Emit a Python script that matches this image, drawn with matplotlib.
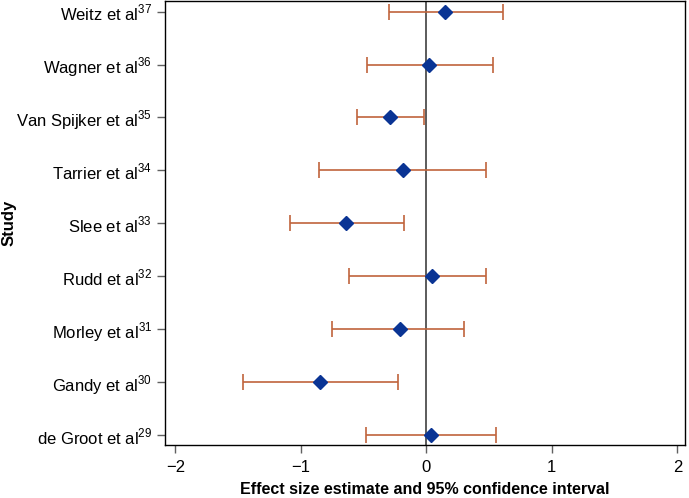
import matplotlib.pyplot as plt
import numpy as np

plt.rcParams['font.family'] = ['Liberation Sans', 'DejaVu Sans']
plt.rcParams['mathtext.fontset'] = 'custom'
plt.rcParams['mathtext.rm'] = 'Liberation Sans'

# studies listed bottom to top
studies = ["de Groot et al", "Gandy et al", "Morley et al", "Rudd et al", "Slee et al",
           "Tarrier et al", "Van Spijker et al", "Wagner et al", "Weitz et al"]
refs = ["29", "30", "31", "32", "33", "34", "35", "36", "37"]
estimate = [0.034, -0.847, -0.213, 0.041, -0.644, -0.188, -0.289, 0.019, 0.149]
ci_low = [-0.482, -1.465, -0.753, -0.614, -1.087, -0.853, -0.549, -0.474, -0.297]
ci_high = [0.557, -0.230, 0.300, 0.475, -0.177, 0.475, -0.021, 0.533, 0.610]

est = np.array(estimate)
lo = est - np.array(ci_low)
hi = np.array(ci_high) - est
ypos = np.arange(1, len(studies) + 1)

fig = plt.figure(figsize=(6.89, 4.98), dpi=100)
ax = fig.add_axes([0.240, 0.107, 0.754, 0.891])

ax.axvline(0, color="#404040", linewidth=1.2, zorder=1)
ax.errorbar(est, ypos, xerr=[lo, hi], fmt="none", ecolor="#c0643c",
            elinewidth=1.2, capsize=6, capthick=1.2, zorder=2)
ax.plot(est, ypos, linestyle="none", marker="D", markersize=7.5,
        color="#0a3494", zorder=3)

ax.set_xlim(-2.08, 2.06)
ax.set_ylim(0.82, 9.2)
ax.set_xticks([-2, -1, 0, 1, 2])
ax.set_xticklabels(["\u22122", "\u22121", "0", "1", "2"])
ax.set_yticks(ypos)
ax.set_yticklabels([f"{s}$^{{\\mathregular{{{r}}}}}$" for s, r in zip(studies, refs)])
ax.tick_params(axis="both", labelsize=12, length=6, color="#606060", width=1)
ax.tick_params(axis="x", pad=5)

for sp in ax.spines.values():
    sp.set_linewidth(1.0)
    sp.set_color("black")

ax.set_xlabel("Effect size estimate and 95% confidence interval", fontsize=11.5,
              fontweight="bold")
ax.xaxis.set_label_coords(0.5, -0.083)
ax.set_ylabel("Study", fontsize=12, fontweight="bold")
ax.yaxis.set_label_coords(-0.287, 0.5)

fig.savefig("out.png", dpi=100, facecolor="white")
